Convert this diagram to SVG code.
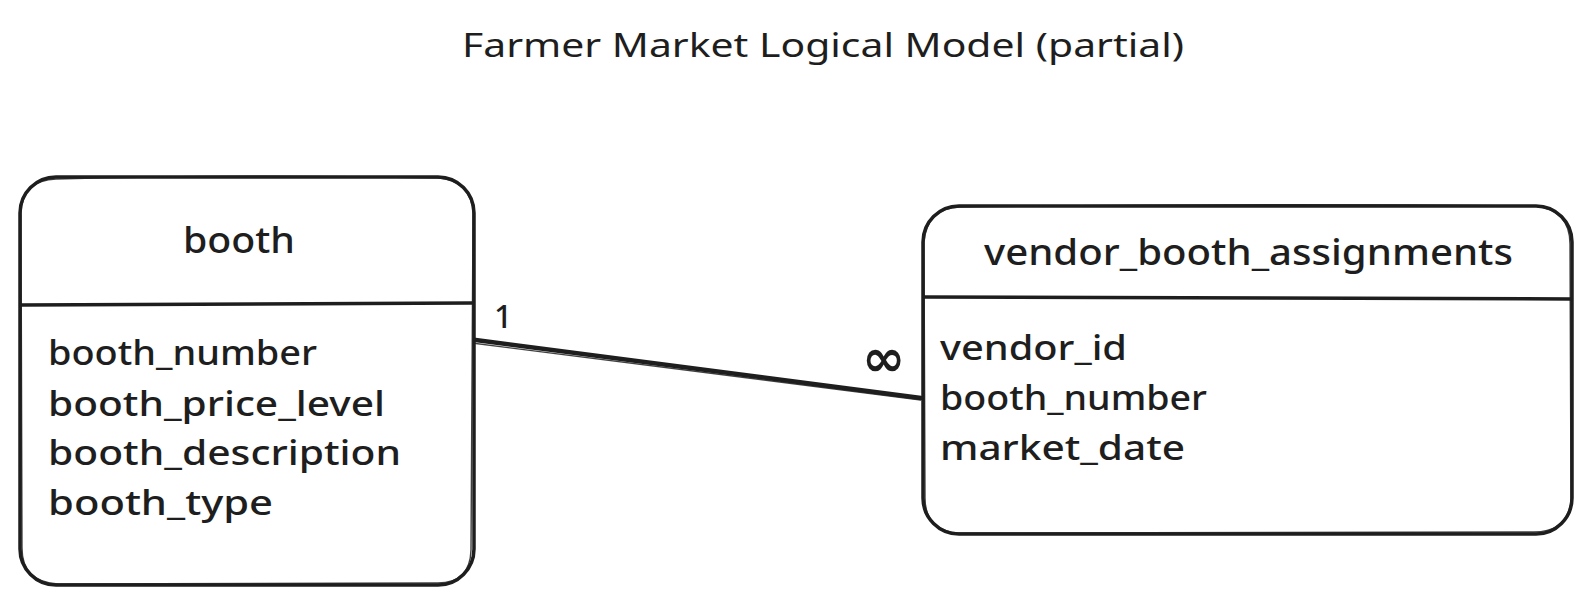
<svg xmlns="http://www.w3.org/2000/svg" width="1590" height="602" viewBox="0 0 1590 602">
  <style>
    .box { fill: #ffffff; stroke: #1e1e1e; stroke-width: 3.5; }
    .rule { stroke: #1e1e1e; stroke-width: 3.5; stroke-linecap: round; fill: none; }
    .sk { stroke: #1e1e1e; stroke-width: 1.4; fill: none; opacity: 0.85; }
    .t { font-family: "Noto Sans", "DejaVu Sans", sans-serif; fill: #1e1e1e; font-weight: 500; }
    .title { font-size: 32px; font-weight: 400; }
    .head { font-size: 36px; }
    .field { font-size: 35px; }
    .lbl { font-size: 32px; }
  </style>
  <rect width="1590" height="602" fill="#ffffff"/>

  <g id="title">
    <text class="t title" x="462" y="57" textLength="722" lengthAdjust="spacingAndGlyphs">Farmer Market Logical Model (partial)</text>
  </g>

  <g id="connectors">
    <line class="rule" x1="468" y1="339" x2="921" y2="398" style="stroke-width:4.5"/>
    <line class="sk" x1="464" y1="342" x2="921" y2="400"/>
    <text class="t lbl" x="494" y="328">1</text>
    <text class="t lbl" x="862" y="376" style="font-size:52px; font-weight:600">∞</text>
  </g>

  <g id="booth">
    <rect class="box" x="20" y="177" width="454" height="408" rx="36" ry="36"/>
    <path class="sk" d="M56 179 Q240 174 440 178 Q472 182 473 214 L471 550 Q470 584 436 583 L58 584 Q22 582 22 548 L21 212 Q23 180 56 179"/>
    <line class="rule" x1="21" y1="305" x2="472" y2="303"/>
    <text class="t head" x="239" y="253" text-anchor="middle" textLength="112" lengthAdjust="spacingAndGlyphs">booth</text>
    <text class="t field" x="48" y="365" textLength="269" lengthAdjust="spacingAndGlyphs">booth_number</text>
    <text class="t field" x="48" y="416" textLength="337" lengthAdjust="spacingAndGlyphs">booth_price_level</text>
    <text class="t field" x="48" y="465" textLength="353" lengthAdjust="spacingAndGlyphs">booth_description</text>
    <text class="t field" x="48" y="515" textLength="225" lengthAdjust="spacingAndGlyphs">booth_type</text>
  </g>

  <g id="vendor_booth_assignments">
    <rect class="box" x="923" y="206" width="649" height="328" rx="36" ry="36"/>
    <path class="sk" d="M960 207 Q1250 203 1535 206 Q1570 210 1570 244 L1571 500 Q1568 532 1534 532 L958 533 Q925 530 925 498 L924 242 Q927 208 960 207"/>
    <line class="rule" x1="924" y1="297" x2="1571" y2="299"/>
    <text class="t head" x="984" y="265" textLength="529" lengthAdjust="spacingAndGlyphs">vendor_booth_assignments</text>
    <text class="t field" x="940" y="360" textLength="187" lengthAdjust="spacingAndGlyphs">vendor_id</text>
    <text class="t field" x="940" y="410" textLength="267" lengthAdjust="spacingAndGlyphs">booth_number</text>
    <text class="t field" x="940" y="460" textLength="245" lengthAdjust="spacingAndGlyphs">market_date</text>
  </g>
</svg>
